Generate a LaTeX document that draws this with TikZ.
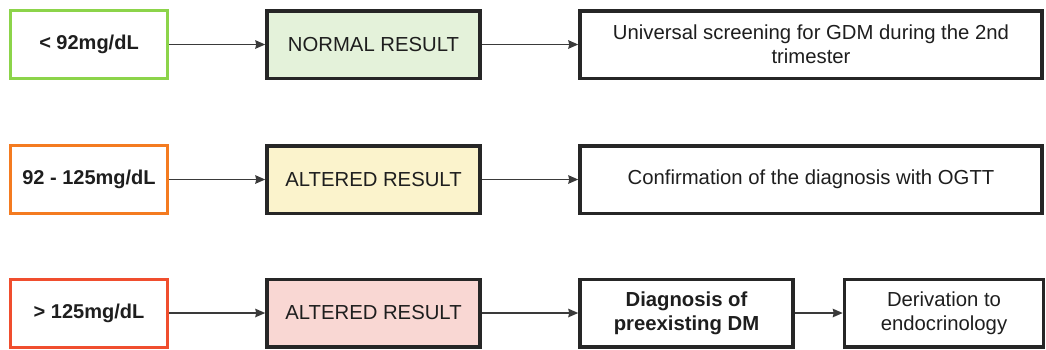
\documentclass[tikz,border=0pt]{standalone}
\usepackage{fontspec}
\setmainfont{Liberation Sans}
\usetikzlibrary{arrows.meta}
\definecolor{grn}{HTML}{8CD44A}
\definecolor{org}{HTML}{F47B20}
\definecolor{rd}{HTML}{F04E2E}
\definecolor{gfill}{HTML}{E4F2DA}
\definecolor{yfill}{HTML}{FBF3CC}
\definecolor{rfill}{HTML}{F9D7D3}
\definecolor{txt}{HTML}{1E1E1E}
\definecolor{arr}{HTML}{3A3A3A}
\tikzset{
  rangebox/.style={draw, line width=3pt, fill=white, minimum width=157pt, minimum height=68pt, inner sep=2pt, font=\fontsize{20}{24}\selectfont\bfseries, text=txt, align=center},
  resbox/.style={draw=black!85, line width=3.5pt, minimum width=213pt, minimum height=67.5pt, inner sep=2pt, font=\fontsize{20.3}{24}\selectfont, text=txt, align=center},
  actbox/.style={draw=black!85, line width=3.5pt, fill=white, minimum height=67.5pt, inner sep=2pt, font=\fontsize{20.3}{24}\selectfont, text=txt, align=center},
  conn/.style={draw=arr, line width=1.6pt, -{Stealth[length=10pt,width=8.5pt,inset=1pt]}}
}
\begin{document}
\begin{tikzpicture}[x=1pt,y=-1pt]
\useasboundingbox (0,0) rectangle (1046,349);
% row 1
\node[rangebox, draw=grn] (r1) at (89,44.5) {< 92mg/dL};
\node[resbox, fill=gfill] (m1) at (373.5,44.5) {NORMAL RESULT};
\node[actbox, minimum width=462pt] (a1) at (811,44.5) {Universal screening for GDM during the 2nd\\trimester};
% row 2
\node[rangebox, draw=org] (r2) at (89,179.5) {92 - 125mg/dL};
\node[resbox, fill=yfill] (m2) at (373.5,179.5) {ALTERED RESULT};
\node[actbox, minimum width=462pt] (a2) at (811,179.5) {Confirmation of the diagnosis with OGTT};
% row 3
\node[rangebox, draw=rd] (r3) at (89,313) {> 125mg/dL};
\node[resbox, fill=rfill] (m3) at (373.5,313) {ALTERED RESULT};
\node[actbox, minimum width=213pt, font=\fontsize{20.3}{24}\selectfont\bfseries] (d3) at (686.5,313) {Diagnosis of\\preexisting DM};
\node[actbox, minimum width=199pt] (e3) at (944,313) {Derivation to\\endocrinology};
% connectors
\draw[conn] (r1) -- (m1);
\draw[conn] (m1) -- (a1);
\draw[conn] (r2) -- (m2);
\draw[conn] (m2) -- (a2);
\draw[conn] (r3) -- (m3);
\draw[conn] (m3) -- (d3);
\draw[conn] (d3) -- (e3);
\end{tikzpicture}
\end{document}
